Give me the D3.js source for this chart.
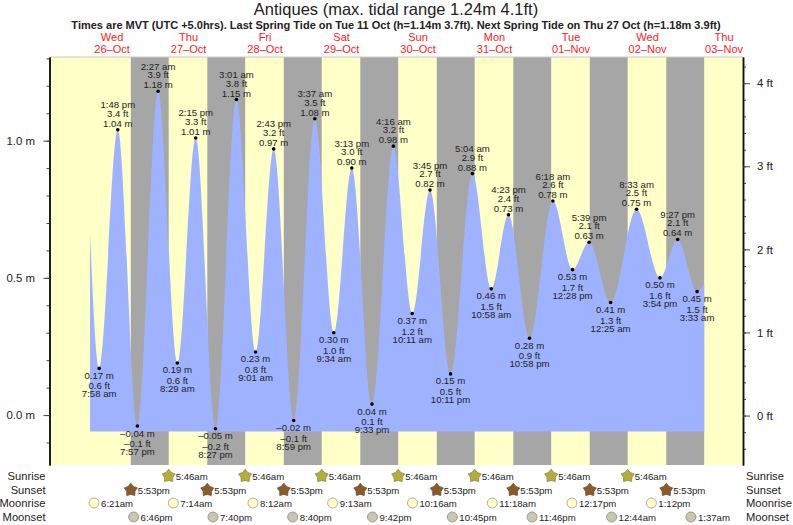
<!DOCTYPE html>
<html>
<head>
<meta charset="utf-8">
<title>Antiques tide chart</title>
<script src="https://cdnjs.cloudflare.com/ajax/libs/d3/7.8.5/d3.min.js"></script>
<style>
  html, body { margin: 0; padding: 0; background: #fff; }
  svg { display: block; }
  text { font-family: "Liberation Sans", Arial, sans-serif; fill: #222; }
</style>
</head>
<body>
<script>
// tide extremes, low first then alternating low / high
var tideTimes = [
  "2022-10-26T07:58", "2022-10-26T13:48", "2022-10-26T19:57", "2022-10-27T02:27",
  "2022-10-27T08:29", "2022-10-27T14:15", "2022-10-27T20:27", "2022-10-28T03:01",
  "2022-10-28T09:01", "2022-10-28T14:43", "2022-10-28T20:59", "2022-10-29T03:37",
  "2022-10-29T09:34", "2022-10-29T15:13", "2022-10-29T21:33", "2022-10-30T04:16",
  "2022-10-30T10:11", "2022-10-30T15:45", "2022-10-30T22:11", "2022-10-31T05:04",
  "2022-10-31T10:58", "2022-10-31T16:23", "2022-10-31T22:58", "2022-11-01T06:18",
  "2022-11-01T12:28", "2022-11-01T17:39", "2022-11-02T00:25", "2022-11-02T08:33",
  "2022-11-02T15:54", "2022-11-02T21:27", "2022-11-03T03:33"
];
var tideMetres = [
  0.17, 1.04, -0.04, 1.18, 0.19, 1.01, -0.05, 1.15,
  0.23, 0.97, -0.02, 1.08, 0.30, 0.90, 0.04, 0.98,
  0.37, 0.82, 0.15, 0.88, 0.46, 0.73, 0.28, 0.78,
  0.53, 0.63, 0.41, 0.75, 0.50, 0.64, 0.45
];
var tideFeet = [
  0.6, 3.4, -0.1, 3.9, 0.6, 3.3, -0.2, 3.8,
  0.8, 3.2, -0.1, 3.5, 1.0, 3.0, 0.1, 3.2,
  1.2, 2.7, 0.5, 2.9, 1.5, 2.4, 0.9, 2.6,
  1.7, 2.1, 1.3, 2.5, 1.6, 2.1, 1.5
];
// where the drawn curve begins and ends (not labelled on the chart)
var curveStart = ["2022-10-26T05:05", 0.66];
var curveEnd = ["2022-11-03T05:46", 0.48];
var areaFloor = -0.06;

var dayNames = ["Wed", "Thu", "Fri", "Sat", "Sun", "Mon", "Tue", "Wed", "Thu"];
var dayDates = ["26-Oct", "27-Oct", "28-Oct", "29-Oct", "30-Oct", "31-Oct", "01-Nov", "02-Nov", "03-Nov"];
var dayNoons = [
  "2022-10-26T12:00", "2022-10-27T12:00", "2022-10-28T12:00", "2022-10-29T12:00", "2022-10-30T12:00",
  "2022-10-31T12:00", "2022-11-01T12:00", "2022-11-02T12:00", "2022-11-03T12:00"
];

var sunrises = [
  "2022-10-27T05:46", "2022-10-28T05:46", "2022-10-29T05:46", "2022-10-30T05:46",
  "2022-10-31T05:46", "2022-11-01T05:46", "2022-11-02T05:46"
];
var sunsets = [
  "2022-10-26T17:53", "2022-10-27T17:53", "2022-10-28T17:53", "2022-10-29T17:53",
  "2022-10-30T17:53", "2022-10-31T17:53", "2022-11-01T17:53", "2022-11-02T17:53"
];
var lastNightEnd = "2022-11-03T05:46";
var moonrises = [
  "2022-10-26T06:21", "2022-10-27T07:14", "2022-10-28T08:12", "2022-10-29T09:13",
  "2022-10-30T10:16", "2022-10-31T11:18", "2022-11-01T12:17", "2022-11-02T13:12"
];
var moonsets = [
  "2022-10-26T18:46", "2022-10-27T19:40", "2022-10-28T20:40", "2022-10-29T21:42",
  "2022-10-30T22:45", "2022-10-31T23:46", "2022-11-02T00:44", "2022-11-03T01:37"
];

var metreTicks = [0, 0.5, 1.0];
var metreMinorTicks = [-0.1, 0, 0.1, 0.2, 0.3, 0.4, 0.5, 0.6, 0.7, 0.8, 0.9, 1.0, 1.1, 1.2, 1.3];
var feetTicks = [0, 1, 2, 3, 4];
var feetMinorTicks = [-0.4, -0.2, 0, 0.2, 0.4, 0.6, 0.8, 1, 1.2, 1.4, 1.6, 1.8, 2, 2.2, 2.4, 2.6, 2.8, 3, 3.2, 3.4, 3.6, 3.8, 4, 4.2];

var svgWidth = 793;
var svgHeight = 525;
var plotLeft = 50, plotRight = 743, plotTop = 57, plotBottom = 465;

var parseTime = d3.utcParse("%Y-%m-%dT%H:%M");
var tideFormat = d3.utcFormat("%-I:%M %p");
var rowFormat = d3.utcFormat("%-I:%M%p");
function lower(s) { return s.toLowerCase(); }
// the chart prints minus signs as long dashes
function dash(s) { return String(s).replace("-", "\u2013"); }

var xScale = d3.scaleUtc()
  .domain([parseTime("2022-10-25T16:32"), parseTime("2022-11-03T17:57")])
  .range([plotLeft, plotRight]);
var yScale = d3.scaleLinear().domain([-0.182, 1.305]).range([plotBottom, plotTop]);
var yFeet = d3.scaleLinear().domain([-0.595, 4.315]).range([plotBottom, plotTop]);

var svg = d3.select("body").append("svg")
  .attr("width", svgWidth)
  .attr("height", svgHeight);

// day / night background
svg.append("rect")
  .attr("x", plotLeft).attr("y", plotTop)
  .attr("width", plotRight - plotLeft).attr("height", plotBottom - plotTop)
  .attr("fill", "#ffffc8");

var nightEnds = sunrises.concat([lastNightEnd]);
svg.selectAll("rect.night")
  .data(sunsets)
  .enter().append("rect")
  .attr("class", "night")
  .attr("x", (d) => xScale(parseTime(d)))
  .attr("y", plotTop)
  .attr("width", (d, i) => xScale(parseTime(nightEnds[i])) - xScale(parseTime(d)))
  .attr("height", plotBottom - plotTop)
  .attr("fill", "#a6a6a6");

// tide curve
var curveData = [{ t: curveStart[0], m: curveStart[1] }]
  .concat(tideTimes.map((t, i) => ({ t: t, m: tideMetres[i] })))
  .concat([{ t: curveEnd[0], m: curveEnd[1] }]);

var area = d3.area()
  .x((d) => xScale(parseTime(d.t)))
  .y0(yScale(areaFloor))
  .y1((d) => yScale(d.m))
  .curve(d3.curveMonotoneX);

svg.append("path")
  .datum(curveData)
  .attr("d", area)
  .attr("fill", "#9fb2ff");

// top edge of the plot
svg.append("line")
  .attr("x1", plotLeft).attr("x2", plotRight)
  .attr("y1", plotTop).attr("y2", plotTop)
  .attr("stroke", "#c8c8c8");

// high / low dots and their three line labels
var tides = svg.selectAll("g.tide")
  .data(tideTimes)
  .enter().append("g")
  .attr("class", "tide")
  .attr("transform", (d, i) => "translate(" + xScale(parseTime(d)) + "," + yScale(tideMetres[i]) + ")");

tides.append("circle").attr("r", 1.8).attr("fill", "#000");

function tideLine(offsetHigh, offsetLow, label) {
  tides.append("text")
    .attr("text-anchor", "middle")
    .attr("dominant-baseline", "central")
    .attr("font-size", 9.6)
    .attr("y", (d, i) => (i % 2 == 1 ? offsetHigh : offsetLow))
    .text(label);
}
tideLine(-6.5, 7, (d, i) => dash(tideMetres[i].toFixed(2)) + " m");
tideLine(-16.5, 17.5, (d, i) => dash(tideFeet[i].toFixed(1)) + " ft");
tideLine(-25, 25.5, (d) => lower(tideFormat(parseTime(d))));

// axes
var leftMinor = d3.axisLeft(yScale).tickValues(metreMinorTicks).tickSize(3).tickSizeOuter(0).tickFormat("");
var leftMajor = d3.axisLeft(yScale).tickValues(metreTicks).tickSize(6).tickSizeOuter(0).tickPadding(8.5)
  .tickFormat((d) => d.toFixed(1) + " m");
var rightMinor = d3.axisRight(yFeet).tickValues(feetMinorTicks).tickSize(3).tickSizeOuter(0).tickFormat("");
var rightMajor = d3.axisRight(yFeet).tickValues(feetTicks).tickSize(7).tickSizeOuter(0).tickPadding(7)
  .tickFormat((d) => d + " ft");

function addAxis(axis, x) {
  var g = svg.append("g")
    .attr("class", "axis")
    .attr("transform", "translate(" + x + ",0)")
    .call(axis);
  g.selectAll("line").attr("stroke", "#444");
  g.selectAll("path").attr("stroke", "#111").attr("stroke-width", 1.5);
  g.selectAll("text").attr("font-size", 11.4).attr("font-family", null).style("fill", "#222");
}
addAxis(leftMinor, plotLeft - 0.5);
addAxis(leftMajor, plotLeft - 0.5);
addAxis(rightMinor, plotRight);
addAxis(rightMajor, plotRight);

// headings
svg.append("text")
  .attr("x", 396).attr("y", 15)
  .attr("text-anchor", "middle")
  .attr("font-size", 16.5)
  .text("Antiques (max. tidal range 1.24m 4.1ft)");
svg.append("text")
  .attr("x", 396).attr("y", 29)
  .attr("text-anchor", "middle")
  .attr("font-size", 11)
  .attr("font-weight", "bold")
  .text("Times are MVT (UTC +5.0hrs). Last Spring Tide on Tue 11 Oct (h=1.14m 3.7ft). Next Spring Tide on Thu 27 Oct (h=1.18m 3.9ft)");

var dayLabels = svg.selectAll("g.day")
  .data(dayNoons)
  .enter().append("g")
  .attr("class", "day")
  .attr("transform", (d) => "translate(" + xScale(parseTime(d)) + ",0)");
dayLabels.append("text")
  .attr("y", 41).attr("text-anchor", "middle").attr("font-size", 11)
  .style("fill", "#ff2020")
  .text((d, i) => dayNames[i]);
dayLabels.append("text")
  .attr("y", 53).attr("text-anchor", "middle").attr("font-size", 11)
  .style("fill", "#ff2020")
  .text((d, i) => dash(dayDates[i]));

// sun and moon rows under the plot
var rowNames = ["Sunrise", "Sunset", "Moonrise", "Moonset"];
var rowY = [476, 490, 503, 517];
var rowTimes = [sunrises, sunsets, moonrises, moonsets];
var rowFill = ["#b5ae35", "#8b5a2b", "#ffffc8", "#c8c8b0"];
var rowStroke = ["#86865a", "#75502e", "#999", "#888"];
var starLine = d3.lineRadial()
  .angle((d, i) => i * Math.PI / 5)
  .radius((d) => d)
  .curve(d3.curveLinearClosed);
var starRadii = [6.8, 4.4, 6.8, 4.4, 6.8, 4.4, 6.8, 4.4, 6.8, 4.4];

rowNames.forEach(function (name, r) {
  svg.append("text")
    .attr("x", 45.5).attr("y", rowY[r]).attr("text-anchor", "end")
    .attr("dominant-baseline", "central").attr("font-size", 11.2)
    .text(name);
  svg.append("text")
    .attr("x", 746).attr("y", rowY[r])
    .attr("dominant-baseline", "central").attr("font-size", 11.2)
    .text(name);

  var marks = svg.selectAll("g.row" + r)
    .data(rowTimes[r])
    .enter().append("g")
    .attr("class", "row" + r)
    .attr("transform", (d) => "translate(" + xScale(parseTime(d)) + "," + rowY[r] + ")");

  if (r < 2) {
    marks.append("path").attr("d", starLine(starRadii)).attr("fill", rowFill[r])
      .attr("stroke", rowStroke[r]).attr("stroke-width", 0.8);
  } else {
    marks.append("circle").attr("r", 5).attr("fill", rowFill[r])
      .attr("stroke", rowStroke[r]).attr("stroke-width", 0.8);
  }
  marks.append("text")
    .attr("x", 7).attr("dominant-baseline", "central").attr("font-size", 9.6)
    .text((d) => lower(rowFormat(parseTime(d))));
});
</script>
</body>
</html>
